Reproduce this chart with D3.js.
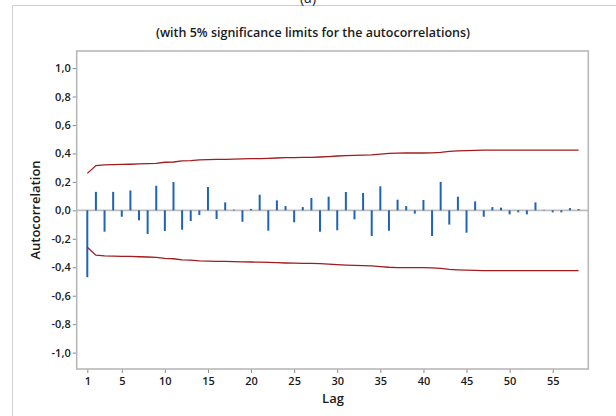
<!DOCTYPE html>
<html><head><meta charset="utf-8">
<script src="https://cdn.jsdelivr.net/npm/d3@7"></script>
<style>body{margin:0;background:#fff;} svg{display:block;} text{font-family:"Open Sans","Noto Sans",sans-serif;}</style>
</head><body>
<svg id="c" width="616" height="416"></svg>
<script>
const lags = d3.range(1, 59);
const acf = [-0.47,0.13,-0.15,0.13,-0.045,0.14,-0.07,-0.166,0.173,-0.145,0.199,-0.136,-0.075,-0.033,0.164,-0.061,0.056,0.005,-0.08,
  0.01,0.11,-0.143,0.07,0.03,-0.084,0.023,0.087,-0.15,0.096,-0.14,0.129,-0.063,0.122,-0.18,0.169,-0.143,0.075,0.03,-0.023,
  0.073,-0.18,0.2,-0.1,0.096,-0.157,0.063,-0.045,0.023,0.019,-0.028,-0.014,-0.028,0.056,0.003,-0.014,-0.014,0.016,0.009];
const upperLimit = [0.26,0.315,0.32,0.322,0.323,0.324,0.326,0.328,0.33,0.338,0.34,0.348,0.35,0.355,0.357,0.358,0.359,0.36,0.362,
  0.363,0.364,0.366,0.368,0.37,0.371,0.372,0.373,0.375,0.378,0.382,0.385,0.387,0.388,0.39,0.395,0.4,0.402,0.403,0.403,
  0.403,0.404,0.408,0.415,0.418,0.42,0.422,0.423,0.424,0.424,0.424,0.424,0.424,0.424,0.424,0.424,0.424,0.424,0.424];
const lowerLimit = upperLimit.map(v => -v);
const xTicks = [1,5,10,15,20,25,30,35,40,45,50,55];
const yTicks = [1.0,0.8,0.6,0.4,0.2,0.0,-0.2,-0.4,-0.6,-0.8,-1.0];
const titleText = "(with 5% significance limits for the autocorrelations)";

const svg = d3.select("#c");
const L = 76.7, R = 588.3, T = 51, B = 369;
const x = d3.scaleLinear().domain([-0.23, 59.13]).range([L, R]);
const y = d3.scaleLinear().domain([-1.115, 1.12]).range([B, T]);
const fmt = v => d3.format(".1f")(v).replace(".", ",").replace("\u2212", "-");

// outer frame
svg.append("rect").attr("x", 12.5).attr("y", 5.5).attr("width", 640).attr("height", 450)
  .attr("fill", "none").attr("stroke", "#d0d0d0").attr("stroke-width", 1);
svg.append("text").attr("x", 308).attr("y", 3).attr("text-anchor", "middle")
  .attr("font-size", 14).attr("fill", "#222").text("(a)");

// title
svg.append("text").attr("x", 313).attr("y", 37).attr("text-anchor", "middle")
  .attr("font-size", 12.5).attr("font-weight", 600).attr("fill", "#1a1a1a").text(titleText);

// axes
const yAxis = d3.axisLeft(y).tickValues(yTicks).tickSize(4).tickFormat(fmt);
const gy = svg.append("g").attr("transform", `translate(${L},0)`).call(yAxis);
const xAxis = d3.axisBottom(x).tickValues(xTicks).tickSize(4).tickFormat(d3.format("d"));
const gx = svg.append("g").attr("transform", `translate(0,${B})`).call(xAxis);
[gx, gy].forEach(g => {
  g.select(".domain").remove();
  g.selectAll(".tick line").attr("stroke", "#8a8a8a");
  g.selectAll(".tick text").attr("fill", "#1a1a1a").attr("font-size", 11).attr("font-weight", 600)
    .style("font-family", '"Open Sans","Noto Sans",sans-serif');
});
gy.selectAll(".tick text").attr("x", -6);
gx.selectAll(".tick text").attr("y", 8);

// zero line
svg.append("line").attr("x1", L).attr("x2", R).attr("y1", y(0)).attr("y2", y(0))
  .attr("stroke", "#bdbdbd").attr("stroke-width", 1.6);

// bars
svg.append("g").selectAll("line").data(lags).join("line")
  .attr("x1", d => x(d)).attr("x2", d => x(d))
  .attr("y1", y(0)).attr("y2", (d, i) => y(acf[i]))
  .attr("stroke", "#1f64b4").attr("stroke-width", 2);

// limits
const line = d3.line().x(d => x(d[0])).y(d => y(d[1]));
svg.append("path").attr("d", line(lags.map((l, i) => [l, upperLimit[i]])))
  .attr("fill", "none").attr("stroke", "#a11b1f").attr("stroke-width", 1.3);
svg.append("path").attr("d", line(lags.map((l, i) => [l, lowerLimit[i]])))
  .attr("fill", "none").attr("stroke", "#a11b1f").attr("stroke-width", 1.3);

// plot frame
svg.append("rect").attr("x", L).attr("y", T).attr("width", R - L).attr("height", B - T)
  .attr("fill", "none").attr("stroke", "#b8b8b8").attr("stroke-width", 1.6);

// axis titles
svg.append("text").attr("x", 333).attr("y", 403).attr("text-anchor", "middle")
  .attr("font-size", 13).attr("font-weight", 600).attr("fill", "#1a1a1a").text("Lag");
svg.append("text").attr("transform", `translate(40,${(T+B)/2}) rotate(-90)`).attr("text-anchor", "middle")
  .attr("font-size", 13).attr("font-weight", 600).attr("fill", "#1a1a1a").text("Autocorrelation");
</script>
</body></html>
